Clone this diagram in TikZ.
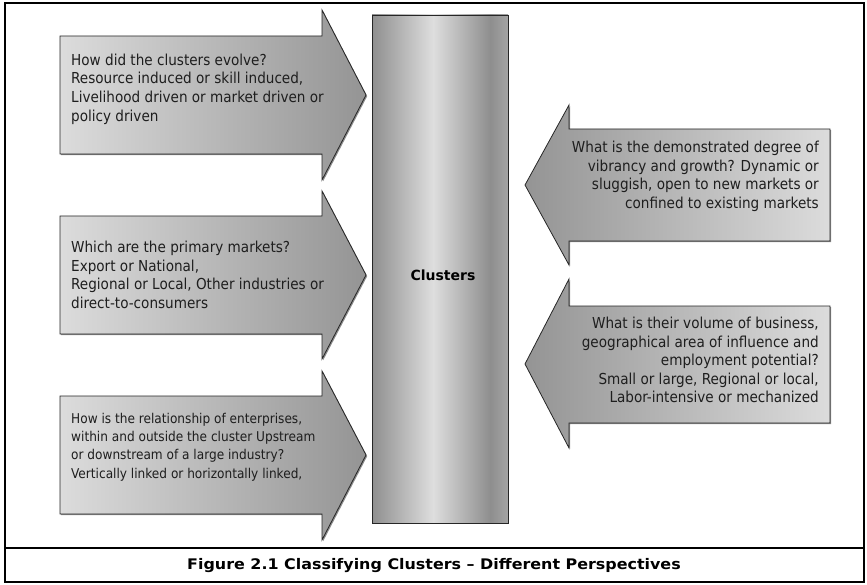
\documentclass[tikz,border=0pt]{standalone}
\usepackage{fontspec}
\usetikzlibrary{shadows}
\setmainfont{DejaVu Sans Condensed}
\newfontfamily\headfont[FakeStretch=1.09]{DejaVu Sans}
\newfontfamily\pillarfont{DejaVu Sans}
\definecolor{pillarA}{HTML}{8F8F8F}
\definecolor{pillarB}{HTML}{DEDEDE}
\definecolor{pillarC}{HTML}{8E8E8E}
\definecolor{pillarD}{HTML}{A4A4A4}
\definecolor{shadelight}{HTML}{DCDCDC}
\definecolor{shadedark}{HTML}{949494}
\definecolor{inktext}{HTML}{1E1E1E}
% cylinder-like shading for the central pillar (path maps onto 25bp..75bp)
\pgfdeclarehorizontalshading{pillarshade}{100bp}{%
  color(0bp)=(pillarA); color(25bp)=(pillarA); color(47.5bp)=(pillarB);
  color(68.5bp)=(pillarC); color(75bp)=(pillarD); color(100bp)=(pillarD)}
\begin{document}
\begin{tikzpicture}[x=1pt,y=-1pt,
  outline/.style={draw=black!85, line width=0.8pt,
    drop shadow={shadow xshift=1.2pt, shadow yshift=-1.2pt, fill=black!45, opacity=1}},
  toright/.style={outline, left color=shadelight, right color=shadedark},
  toleft/.style={outline, left color=shadedark, right color=shadelight},
  pillar/.style={outline, shading=pillarshade},
  frameline/.style={line width=2.4pt, draw=black},
  qtext/.style={inner sep=0pt, text=inktext, font=\fontsize{15.1}{18.6}\selectfont},
  smalltext/.style={font=\fontsize{13.5}{18.4}\selectfont},
  lefttext/.style={qtext, anchor=west, align=left},
  righttext/.style={qtext, anchor=east, align=right}]
\useasboundingbox (0,0) rectangle (867,585);

% outer frame and caption divider
\draw[frameline] (5,3) rectangle (864,582);
\draw[frameline] (5,548) -- (864,548);

% central pillar
\path[pillar] (372,15) rectangle (508,523);
\node[inner sep=0pt, font=\pillarfont\bfseries\fontsize{14}{16}\selectfont] (clusters) at (443,275) {Clusters};

% arrows pointing right, into the pillar
\path[toright] (60,36) -- (322,36) -- (322,10) -- (366,95) -- (322,180) -- (322,154) -- (60,154) -- cycle;
\path[toright] (60,216) -- (322,216) -- (322,191) -- (366,275) -- (322,359) -- (322,334) -- (60,334) -- cycle;
\path[toright] (60,396) -- (322,396) -- (322,371) -- (366,455) -- (322,540) -- (322,514) -- (60,514) -- cycle;

% arrows pointing left, into the pillar
\path[toleft] (830,129) -- (569,129) -- (569,105) -- (525,185) -- (569,265) -- (569,241) -- (830,241) -- cycle;
\path[toleft] (830,306) -- (569,306) -- (569,279) -- (525,364) -- (569,448) -- (569,423) -- (830,423) -- cycle;

% question texts
\node[lefttext] (evolve) at (71,89) {How did the clusters evolve?\\Resource induced or skill induced,\\Livelihood driven or market driven or\\policy driven};
\node[lefttext] (markets) at (71,275) {Which are the primary markets?\\Export or National,\\Regional or Local, Other industries or\\direct-to-consumers};
\node[lefttext, smalltext] (relations) at (71,447) {How is the relationship of enterprises,\\within and outside the cluster Upstream\\or downstream of a large industry?\\Vertically linked or horizontally linked,};
\node[righttext] (vibrancy) at (819,176.5) {What is the demonstrated degree of\\vibrancy and growth? Dynamic or\\sluggish, open to new markets or\\confined to existing markets};
\node[righttext] (volume) at (819,360) {What is their volume of business,\\geographical area of influence and\\employment potential?\\Small or large, Regional or local,\\Labor-intensive or mechanized};

% caption
\node[inner sep=0pt, font=\headfont\bfseries\fontsize{14.6}{17}\selectfont] (caption) at (434,566) {Figure 2.1 Classifying Clusters – Different Perspectives};
\end{tikzpicture}
\end{document}
